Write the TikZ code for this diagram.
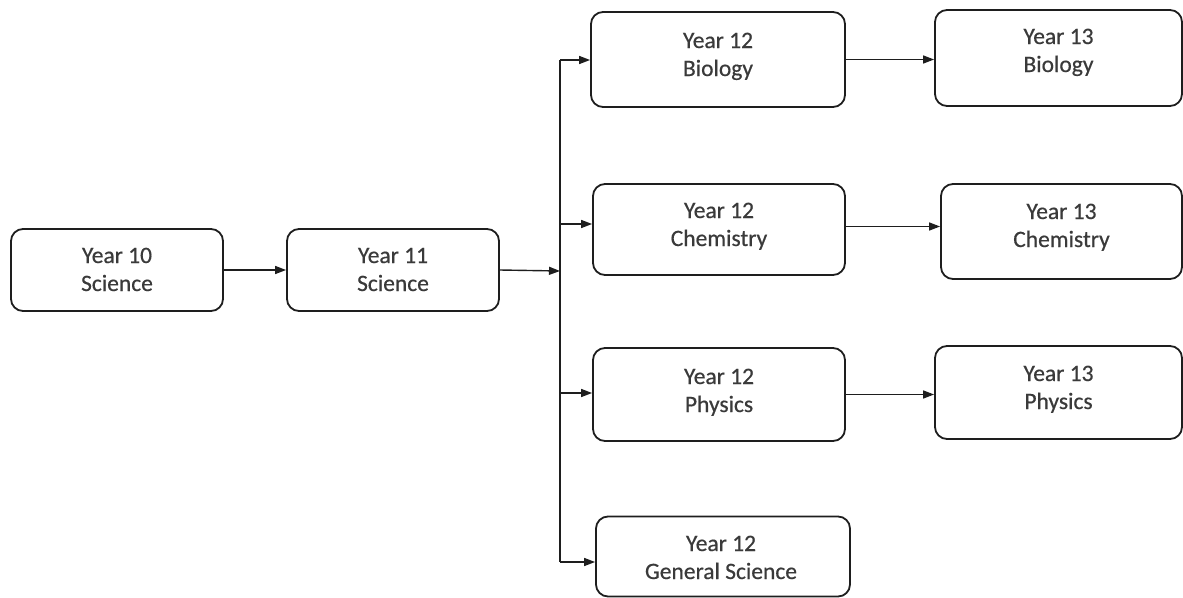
\documentclass[tikz,border=0pt]{standalone}
\usepackage{fontspec}
\setmainfont{Carlito}[FakeBold=0.5]
\usetikzlibrary{arrows.meta}
\definecolor{txtc}{HTML}{3A3A3A}
\definecolor{linec}{HTML}{1E1E1E}
\tikzset{
  box/.style={draw=linec, line width=1.8pt, rounded corners=12pt, inner sep=0pt, fill=white},
  lbl/.style={text=txtc, align=center, anchor=base, inner sep=0pt, font=\fontsize{23.5}{28}\selectfont},
  arr/.style={draw=linec, line width=1.4pt, -{Triangle[length=11pt,width=8pt]}},
  bus/.style={draw=linec, line width=1.4pt}
}
\begin{document}
\begin{tikzpicture}[x=1pt,y=1pt]
\useasboundingbox (0,0) rectangle (1183,-597);
% boxes
\node[box, minimum width=212pt, minimum height=82pt] (y10) at (117,-270) {};
\node[box, minimum width=212pt, minimum height=82pt] (y11) at (393,-270) {};
\node[box, minimum width=254pt, minimum height=95pt] (b12) at (718,-59.5) {};
\node[box, minimum width=247pt, minimum height=96pt] (b13) at (1058.5,-58) {};
\node[box, minimum width=252pt, minimum height=91pt] (c12) at (719,-229.5) {};
\node[box, minimum width=241pt, minimum height=95pt] (c13) at (1061.5,-231.5) {};
\node[box, minimum width=252pt, minimum height=93pt] (p12) at (719,-394.5) {};
\node[box, minimum width=247pt, minimum height=93pt] (p13) at (1058.5,-392.5) {};
\node[box, minimum width=254pt, minimum height=80pt] (g12) at (723,-556.5) {};
% labels
\node[lbl] (t10) at (117,-291) {Year 10\\Science};
\node[lbl] (t11) at (393,-291) {Year 11\\Science};
\node[lbl] (tb12) at (718,-76) {Year 12\\Biology};
\node[lbl] (tb13) at (1058.5,-72) {Year 13\\Biology};
\node[lbl] (tc12) at (719,-246) {Year 12\\Chemistry};
\node[lbl] (tc13) at (1061.5,-247) {Year 13\\Chemistry};
\node[lbl] (tp12) at (719,-412) {Year 12\\Physics};
\node[lbl] (tp13) at (1058.5,-409) {Year 13\\Physics};
\node[lbl] (tg12) at (721,-579) {Year 12\\General Science};
% bus coordinates
\coordinate (jtop) at (560,-60);
\coordinate (jin) at (560,-271);
\coordinate (jc) at (560,-224);
\coordinate (jp) at (560,-393);
\coordinate (jbot) at (560,-562);
% connectors
\draw[arr] (y10.east) -- (y11.west);
\draw[arr] (y11.east) -- (jin);
\draw[bus] (jtop) -- (jbot);
\draw[arr] (jtop) -- (jtop -| b12.west);
\draw[arr] (jc) -- (jc -| c12.west);
\draw[arr] (jp) -- (jp -| p12.west);
\draw[arr] (jbot) -- (jbot -| g12.west);
\draw[arr] (b12.east) -- (b12.east -| b13.west);
\draw[arr] ([yshift=3pt]c12.east) -- ([yshift=3pt]c12.east -| c13.west);
\draw[arr] (p12.east) -- (p12.east -| p13.west);
\end{tikzpicture}
\end{document}
